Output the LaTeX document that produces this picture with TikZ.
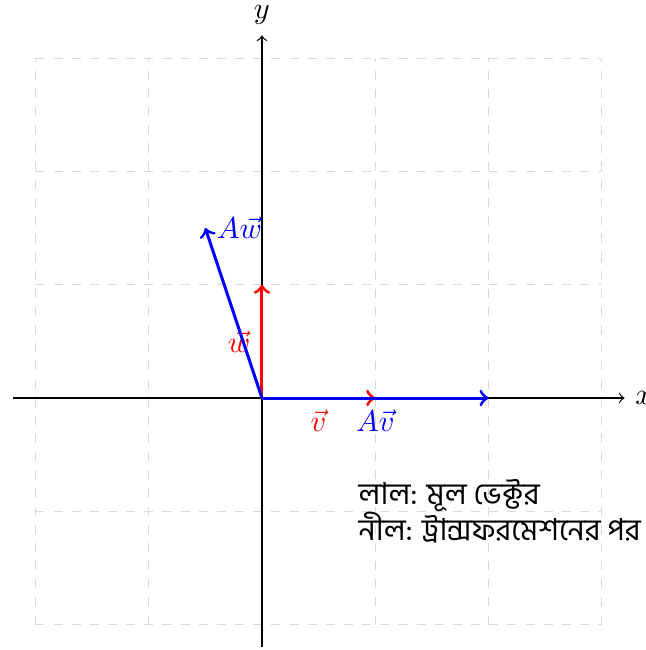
\documentclass[tikz,border=0pt]{standalone}
\usepackage{fontspec}
\newfontfamily\bnfont[Script=Bengali]{Hind Siliguri}
\begin{document}
\begin{tikzpicture}[
  scale=1.316,
  gridline/.style={gray!30, dashed},
  axis/.style={->},
  vec/.style={->, line width=1pt},
]
\useasboundingbox (-2.312,-2.224) rectangle (3.389,3.513);
\draw[gridline] (-2,-2) grid (3,3);
\coordinate (O) at (0,0);
\coordinate (xs) at (-2.2,0);
\coordinate (xe) at (3.2,0);
\coordinate (ys) at (0,-2.2);
\coordinate (ye) at (0,3.2);
\draw[axis] (xs) -- (xe) node[right] {$x$};
\draw[axis] (ys) -- (ye) node[above] {$y$};
\coordinate (v) at (1,0);
\coordinate (w) at (0,1);
\coordinate (Av) at (2,0);
\coordinate (Aw) at (-0.5,1.5);
\draw[vec, red] (O) -- (v) node[midway, below, red] {$\vec{v}$};
\draw[vec, red] (O) -- (w) node[midway, left, red] {$\vec{w}$};
\draw[vec, blue] (O) -- (Av) node[midway, below] {$A\vec{v}$};
\draw[vec, blue] (O) -- (Aw) node[right] {$A\vec{w}$};
\node[anchor=west, align=left, font=\bnfont] (legend) at (0.76,-1.0) {লাল: মূল ভেক্টর\\নীল: ট্রান্সফরমেশনের পর};
\end{tikzpicture}
\end{document}
